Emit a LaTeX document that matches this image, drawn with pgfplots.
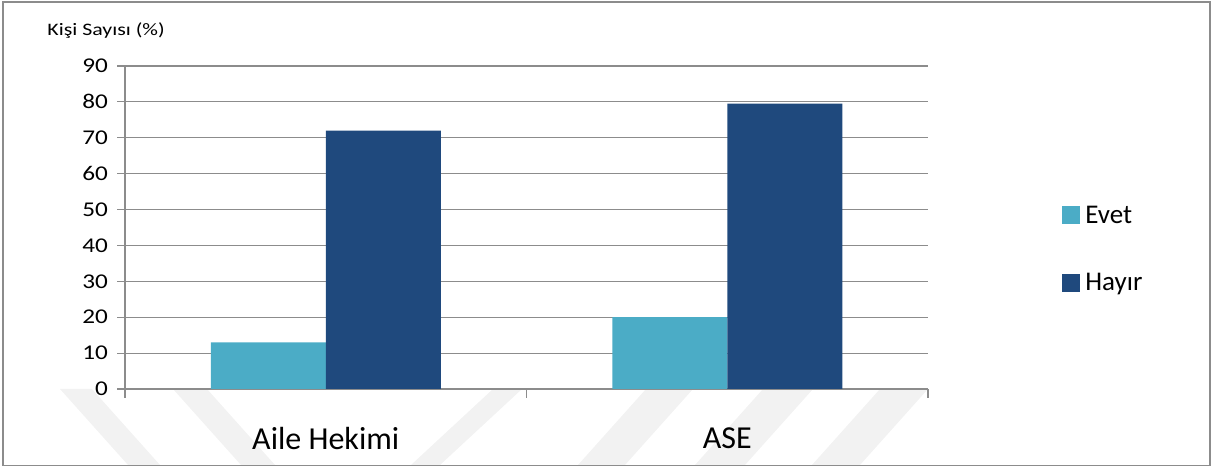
\documentclass[border=0pt]{standalone}
\usepackage{pgfplots}
\pgfplotsset{compat=1.18}
\usepackage{fontspec}
\setmainfont{Carlito}
\definecolor{evet}{HTML}{4BACC6}
\definecolor{hayir}{HTML}{1F497D}
\definecolor{gridc}{HTML}{8C8C8C}
\definecolor{wm}{HTML}{F2F2F2}
\begin{document}
\begin{tikzpicture}[x=1pt,y=1pt]
\path[use as bounding box] (0,0) rectangle (1213,468);
% watermark stripes (decoration)
\begin{scope}
\clip (3,3) rectangle (1210,79);
\fill[wm] (60,79) -- (92,79) -- (160,3) -- (128,3) -- cycle;
\fill[wm] (173,79) -- (207,79) -- (275,3) -- (241,3) -- cycle;
\fill[wm] (493,79) -- (522,79) -- (440,3) -- (411,3) -- cycle;
\fill[wm] (646,79) -- (693,79) -- (625,3) -- (578,3) -- cycle;
\fill[wm] (763,79) -- (813,79) -- (745,3) -- (695,3) -- cycle;
\fill[wm] (880,79) -- (928,79) -- (860,3) -- (812,3) -- cycle;
\end{scope}
\draw[gridc, line width=1.5pt] (3,2.5) rectangle (1210,466);
\node[anchor=west, xscale=1.25, font=\fontsize{17.5}{20}\selectfont] at (43,437) {Kişi Sayısı (\%)};
\begin{axis}[
  at={(125pt,79pt)}, anchor=south west,
  scale only axis, width=803pt, height=323pt,
  ybar=0pt, bar width=115pt,
  xmin=-0.5, xmax=1.5, ymin=0, ymax=90,
  xtick={0,1}, xticklabels={Aile Hekimi, ASE},
  minor xtick={-0.5,0.5,1.5},
  major x tick style={draw=none},
  minor tick length=9pt,
  major tick length=8pt,
  tick align=outside,
  ytick distance=10,
  ymajorgrids, grid style={gridc, line width=1.2pt},
  axis x line*=bottom, axis y line*=left,
  axis line style={gridc, line width=1.2pt},
  every tick/.style={gridc, line width=1.2pt},
  tick label style={black},
  /pgf/number format/assume math mode=true,
  yticklabel style={font=\fontsize{21}{24}\selectfont, xscale=1.2, xshift=-4pt},
  xticklabel style={font=\fontsize{32}{38}\selectfont, yshift=-27pt},
  legend cell align=left,
  legend image code/.code={\fill[#1] (0pt,-9pt) rectangle (18pt,9pt);},
  legend style={draw=none, fill=none, font=\fontsize{27}{32}\selectfont,
    /tikz/every even column/.append style={column sep=0pt},
    row sep=39pt, inner sep=0pt, nodes={inner sep=5pt},
    at={(rel axis cs:1.167,0.433)}, anchor=west},
]
\addplot[fill=evet, draw=none] coordinates {(0,13) (1,20)};
\addplot[fill=hayir, draw=none] coordinates {(0,72) (1,79.5)};
\legend{Evet, Hayır}
\end{axis}
\end{tikzpicture}
\end{document}
